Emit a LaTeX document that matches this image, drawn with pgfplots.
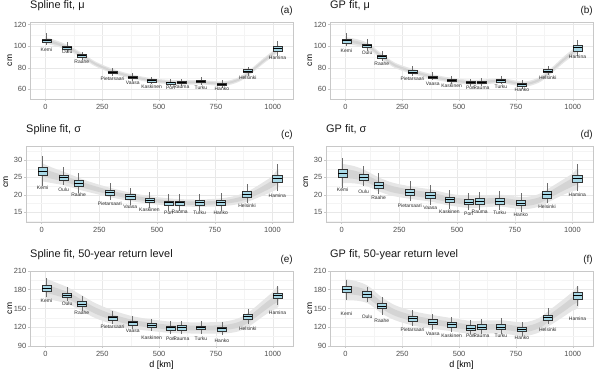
\documentclass[border=0pt]{standalone}
\usepackage{fontspec}
\setmainfont{Liberation Sans}
\usepackage{pgfplots}
\pgfplotsset{compat=1.18}
\usepgfplotslibrary{statistics}

\definecolor{boxfill}{RGB}{168,216,230}
\definecolor{boxline}{RGB}{50,50,50}
\definecolor{whisk}{RGB}{110,110,110}
\definecolor{bandout}{RGB}{230,230,230}
\definecolor{bandin}{RGB}{212,212,212}
\definecolor{gridmaj}{RGB}{232,232,232}
\definecolor{gridmin}{RGB}{244,244,244}
\definecolor{frame}{RGB}{200,200,200}
\definecolor{ticktext}{RGB}{77,77,77}
\definecolor{labtext}{RGB}{40,40,40}

% position, lower whisker, lower quartile, median, upper quartile, upper whisker
\newcommand\bx[6]{\addplot[boxplot prepared={draw position=#1, lower whisker=#2,
  lower quartile=#3, median=#4, upper quartile=#5, upper whisker=#6}] coordinates {};}

\tikzset{letter/.style={anchor=base east, inner sep=0pt, yshift=8bp,
  font=\fontsize{10}{11}\selectfont, text=black!90}}

\pgfplotsset{
  panel/.style={
    scale only axis,
    xmin=-68, xmax=1089,
    xtick={0,250,500,750,1000},
    minor xtick={125,375,625,875},
    grid=both,
    major grid style={gridmaj, line width=0.5bp},
    minor grid style={gridmin, line width=0.3bp},
    axis line style={frame, line width=0.6bp},
    tick style={frame, line width=0.5bp},
    tick align=outside, major tick length=2bp, minor tick length=0pt,
    xtick pos=bottom, ytick pos=left,
    tick label style={font=\fontsize{7.5}{8}\selectfont, text=ticktext},
    yticklabel style={inner sep=1.5bp},
    /pgf/number format/assume math mode=true,
    /pgf/number format/1000 sep={},
    ylabel={cm},
    every axis y label/.style={at={(rel axis cs:0,0.5)}, xshift=-20bp, rotate=90,
      anchor=center, font=\fontsize{8.5}{9}\selectfont},
    every axis x label/.style={at={(rel axis cs:0.5,0)}, yshift=-19bp,
      anchor=center, font=\fontsize{9}{10}\selectfont},
    title style={at={(rel axis cs:0,1)}, anchor=base west, yshift=8bp,
      inner sep=0pt, font=\fontsize{11}{12}\selectfont, text=black!90},
    clip mode=individual,
    boxplot/draw direction=y,
    boxplot/box extend=40,
    boxplot/whisker extend=0,
    boxplot/every box/.style={draw=boxline, fill=boxfill, line width=0.45bp},
    boxplot/every median/.style={draw=black, line width=0.9bp},
    boxplot/every whisker/.style={draw=whisk, line width=0.5bp},
    nodes near coords style={anchor=center, inner sep=0pt,
      font=\fontsize{5}{6}\selectfont, text=labtext},
  },
  rowA/.style={height=77bp, ymin=51, ymax=122.5, ytick={60,80,100,120}, minor ytick={70,90,110}},
  rowB/.style={height=76bp, ymin=12.2, ymax=34, ytick={15,20,25,30}, minor ytick={12.5,17.5,22.5,27.5,32.5}},
  rowC/.style={height=75bp, ymin=90, ymax=210, ytick={90,120,150,180,210}, minor ytick={105,135,165,195}},
  bandO/.style={fill=bandout, draw=none, smooth, tension=0.5},
  bandI/.style={fill=bandin, draw=none, smooth, tension=0.5},
  stlab/.style={draw=none, nodes near coords, point meta=explicit symbolic},
}

\begin{document}
\begin{tikzpicture}

% (a) Spline fit, mu
\begin{axis}[panel, rowA, at={(30bp,351bp)}, anchor=north west, width=263bp,
  title={Spline fit, μ}]
\addplot[bandO] coordinates {(0,108.5) (50,105.2) (100,101) (160,93.9) (220,85.8) (300,78.7)
  (385,73.6) (470,70.3) (555,68.6) (605,68.4) (690,68.4) (785,67.4) (850,71.2) (900,78.3)
  (960,89) (1000,95.7) (1025,100.8) (1025,94.8) (1000,90.3) (960,84) (900,73.7) (850,66.8)
  (785,63.2) (690,64.4) (605,64.4) (555,64.6) (470,66.3) (385,69.4) (300,74.3) (220,81.2)
  (160,89.1) (100,96) (50,99.8) (0,102.5)};
\addplot[bandI] coordinates {(0,106.8) (50,103.7) (100,99.6) (160,92.6) (220,84.5) (300,77.5)
  (385,72.4) (470,69.2) (555,67.5) (605,67.3) (690,67.3) (785,66.2) (850,70) (900,77)
  (960,87.6) (1000,94.2) (1025,99.1) (1025,96.5) (1000,91.8) (960,85.4) (900,75) (850,68)
  (785,64.4) (690,65.5) (605,65.5) (555,65.7) (470,67.4) (385,70.6) (300,75.5) (220,82.5)
  (160,90.4) (100,97.4) (50,101.3) (0,104.2)};
\bx{4}{100.7}{103.5}{105}{106.9}{111.9}
\bx{95}{95.1}{97.3}{98.9}{100.4}{103.5}
\bx{160}{87.4}{89.8}{91}{92.3}{95}
\bx{295}{72.4}{74.9}{75.9}{77.1}{80.2}
\bx{384}{67.8}{70}{71.2}{72.1}{74.9}
\bx{467}{64.7}{66.8}{68}{69}{71.8}
\bx{550}{63.1}{65}{65.9}{66.8}{69.3}
\bx{598}{63.4}{65.6}{66.5}{67.5}{70}
\bx{684}{64.1}{66.2}{67.5}{68.4}{71.2}
\bx{776}{61.2}{63.7}{64.7}{65.6}{68.7}
\bx{890}{72.4}{75.5}{76.8}{78.3}{81.1}
\bx{1021}{90.5}{95.4}{97.6}{99.8}{104.8}
\addplot[stlab] coordinates {(4,96.7)[Kemi] (95,94.5)[Oulu] (160,85.2)[Raahe]
  (295,69.6)[Pietarsaari] (384,65.6)[Vaasa] (467,62.8)[Kaskinen] (550,61.6)[Pori]
  (598,61.9)[Rauma] (684,61.9)[Turku] (776,60.3)[Hanko] (890,70.9)[Helsinki]
  (1021,89.5)[Hamina]};
\node[letter] at (rel axis cs:1,1) {(a)};
\end{axis}

% (b) GP fit, mu
\begin{axis}[panel, rowA, at={(330bp,351bp)}, anchor=north west, width=263bp,
  title={GP fit, μ}]
\addplot[bandO] coordinates {(0,108.5) (50,106.6) (100,102.8) (160,93.1) (220,84.5) (300,78.7)
  (385,73.8) (470,70.6) (555,68.7) (605,69.1) (690,70.2) (785,67.2) (850,71) (900,78.8)
  (960,90.4) (1000,97.2) (1025,101.6) (1025,94.4) (1000,90.8) (960,84.6) (900,73.6) (850,66)
  (785,62.4) (690,65.6) (605,64.5) (555,64.1) (470,66) (385,69.2) (300,73.9) (220,79.5)
  (160,87.9) (100,97.2) (50,100.4) (0,101.5)};
\addplot[bandI] coordinates {(0,106.5) (50,104.8) (100,101.2) (160,91.6) (220,83.1) (300,77.3)
  (385,72.5) (470,69.3) (555,67.4) (605,67.8) (690,68.9) (785,65.8) (850,69.6) (900,77.3)
  (960,88.7) (1000,95.3) (1025,99.5) (1025,96.5) (1000,92.7) (960,86.3) (900,75.1) (850,67.4)
  (785,63.8) (690,66.9) (605,65.8) (555,65.4) (470,67.3) (385,70.5) (300,75.3) (220,80.9)
  (160,89.4) (100,98.8) (50,102.2) (0,103.5)};
\bx{4}{100}{103.1}{104.9}{106.8}{112.3}
\bx{95}{96}{98.9}{100.5}{102.2}{106.8}
\bx{160}{86.2}{88.6}{90.2}{91.7}{96}
\bx{295}{72}{74.5}{76}{77.5}{81.8}
\bx{384}{68.3}{70.2}{71.4}{72.6}{75.7}
\bx{467}{64.6}{67.2}{68.3}{69.4}{72}
\bx{550}{62.8}{65.2}{66.2}{67.2}{69.5}
\bx{598}{63}{65.8}{66.8}{67.8}{70.8}
\bx{684}{64.6}{66.9}{68}{69.1}{72}
\bx{776}{60.6}{63.3}{64.3}{65.3}{68.3}
\bx{890}{73.2}{75.6}{76.9}{78.2}{81.5}
\bx{1021}{91.1}{95.7}{98.5}{100.9}{105.8}
\addplot[stlab] coordinates {(4,96)[Kemi] (95,93.8)[Oulu] (160,83.7)[Raahe]
  (295,69.5)[Pietarsaari] (384,65.2)[Vaasa] (467,63.1)[Kaskinen] (550,61.5)[Pori]
  (598,61.5)[Rauma] (684,62.8)[Turku] (776,59.7)[Hanko] (890,71.1)[Helsinki]
  (1021,89.8)[Hamina]};
\node[letter] at (rel axis cs:1,1) {(b)};
\end{axis}

% (c) Spline fit, sigma
\begin{axis}[panel, rowB, at={(26bp,227bp)}, anchor=north west, width=267bp,
  title={Spline fit, σ}, every axis y label/.append style={xshift=2bp}]
\addplot[bandO] coordinates {(0,29.1) (50,27.7) (100,26.5) (160,24.9) (220,23.5) (300,21.95)
  (385,20.6) (470,19.6) (555,18.95) (605,18.75) (690,18.65) (785,19.05) (850,19.9) (900,21.2)
  (960,23.6) (1000,25.4) (1025,27.3) (1025,22.1) (1000,21) (960,19.8) (900,18.2) (850,17.3)
  (785,16.75) (690,16.55) (605,16.65) (555,16.85) (470,17.4) (385,18.2) (300,19.25) (220,20.5)
  (160,21.5) (100,22.7) (50,23.3) (0,23.9)};
\addplot[bandI] coordinates {(0,27.7) (50,26.5) (100,25.45) (160,23.95) (220,22.7) (300,21.2)
  (385,19.95) (470,19) (555,18.4) (605,18.2) (690,18.1) (785,18.4) (850,19.2) (900,20.4)
  (960,22.55) (1000,24.2) (1025,25.9) (1025,23.5) (1000,22.2) (960,20.85) (900,19) (850,18)
  (785,17.4) (690,17.1) (605,17.2) (555,17.4) (470,18) (385,18.85) (300,20) (220,21.3)
  (160,22.45) (100,23.75) (50,24.5) (0,25.3)};
\bx{4}{22.4}{25.7}{26.7}{27.8}{31.1}
\bx{95}{22.8}{24.3}{25}{25.7}{27.9}
\bx{160}{20.4}{22.5}{23.3}{24.1}{26.3}
\bx{295}{18.5}{19.9}{20.6}{21.3}{23.3}
\bx{384}{17.1}{18.8}{19.5}{20.2}{21.9}
\bx{467}{16.2}{17.8}{18.3}{19}{20.9}
\bx{550}{15.4}{17.1}{17.8}{18.3}{20.2}
\bx{598}{15.4}{17.1}{17.8}{18.3}{20.2}
\bx{684}{15.4}{17.1}{17.8}{18.4}{20.3}
\bx{776}{15.4}{17.1}{17.8}{18.4}{20.4}
\bx{890}{17.6}{19.4}{20.2}{20.9}{23}
\bx{1021}{21.2}{23.6}{24.6}{25.7}{28.8}
\addplot[stlab] coordinates {(4,22.1)[Kemi] (95,21.4)[Oulu] (160,20)[Raahe]
  (295,17.4)[Pietarsaari] (384,16.5)[Vaasa] (467,15.6)[Kaskinen] (550,15)[Pori]
  (598,15)[Rauma] (684,15)[Turku] (776,14.8)[Hanko] (890,16.8)[Helsinki]
  (1021,19.8)[Hamina]};
\node[letter] at (rel axis cs:1,1) {(c)};
\end{axis}

% (d) GP fit, sigma
\begin{axis}[panel, rowB, at={(326bp,227bp)}, anchor=north west, width=267bp,
  title={GP fit, σ}, every axis y label/.append style={xshift=2bp}]
\addplot[bandO] coordinates {(0,28.9) (50,28.3) (100,27.1) (160,25) (220,23.5) (300,22.4)
  (385,21.55) (470,20.3) (555,19.6) (605,19.8) (690,20) (785,19.35) (850,20.1) (900,21.95)
  (960,24.4) (1000,26.1) (1025,27.4) (1025,21.8) (1000,21.1) (960,20) (900,18.05) (850,16.5)
  (785,15.85) (690,16.6) (605,16.4) (555,16.2) (470,16.9) (385,18.05) (300,18.8) (220,19.7)
  (160,21) (100,22.7) (50,23.3) (0,23.3)};
\addplot[bandI] coordinates {(0,27.4) (50,27) (100,25.95) (160,23.95) (220,22.5) (300,21.45)
  (385,20.65) (470,19.4) (555,18.7) (605,18.9) (690,19.1) (785,18.45) (850,19.15) (900,20.9)
  (960,23.25) (1000,24.8) (1025,25.9) (1025,23.3) (1000,22.4) (960,21.15) (900,19.1) (850,17.45)
  (785,16.75) (690,17.5) (605,17.3) (555,17.1) (470,17.8) (385,18.95) (300,19.75) (220,20.7)
  (160,22.05) (100,23.85) (50,24.6) (0,24.8)};
\bx{4}{22}{25.1}{26.1}{27.2}{30.5}
\bx{95}{22.5}{24.2}{25}{25.8}{28.3}
\bx{160}{20.2}{21.9}{22.8}{23.6}{26.3}
\bx{295}{18.3}{19.9}{20.7}{21.6}{23.9}
\bx{384}{17.1}{18.9}{19.8}{20.6}{22.7}
\bx{467}{15.9}{17.8}{18.6}{19.3}{21.4}
\bx{550}{15.5}{17.2}{17.8}{18.6}{20.4}
\bx{598}{15.5}{17.4}{18.1}{18.9}{20.8}
\bx{684}{15.5}{17.4}{18.2}{18.9}{21.1}
\bx{776}{15.2}{16.9}{17.6}{18.4}{20.4}
\bx{890}{17.6}{19.1}{20.1}{21}{23.3}
\bx{1021}{21.1}{23.6}{24.7}{25.7}{28.9}
\addplot[stlab] coordinates {(4,21.6)[Kemi] (95,21)[Oulu] (160,19.1)[Raahe]
  (295,16.9)[Pietarsaari] (384,16.2)[Vaasa] (467,15.2)[Kaskinen] (550,14.5)[Pori]
  (598,15)[Rauma] (684,15)[Turku] (776,14.3)[Hanko] (890,16.5)[Helsinki]
  (1021,19.9)[Hamina]};
\node[letter] at (rel axis cs:1,1) {(d)};
\end{axis}

% (e) Spline fit, 50-year return level
\begin{axis}[panel, rowC, at={(30bp,102bp)}, anchor=north west, width=263bp,
  title={Spline fit, 50-year return level}, xlabel={d [km]}]
\addplot[bandO] coordinates {(0,198) (50,191) (100,183.5) (160,171) (220,158.5) (300,146.5)
  (385,137.5) (470,132.3) (555,128.8) (605,128.2) (690,127.8) (785,129.1) (850,134.5) (900,145.5)
  (960,164) (1000,176.5) (1025,185) (1025,153) (1000,147.5) (960,138) (900,122.5) (850,113.5)
  (785,109.9) (690,109.8) (605,110.2) (555,110.8) (470,113.7) (385,117.5) (300,124.5) (220,134.5)
  (160,146) (100,157.5) (50,162) (0,166)};
\addplot[bandI] coordinates {(0,188.5) (50,182.5) (100,176) (160,163.7) (220,151.5) (300,140.1)
  (385,131.7) (470,126.9) (555,123.6) (605,123) (690,122.6) (785,123.5) (850,128.4) (900,138.8)
  (960,156.5) (1000,168) (1025,175.7) (1025,162.3) (1000,156) (960,145.5) (900,129.2) (850,119.6)
  (785,115.5) (690,115) (605,115.4) (555,116) (470,119.1) (385,123.3) (300,130.9) (220,141.5)
  (160,153.3) (100,165) (50,170.5) (0,175.5)};
\bx{4}{167.7}{178.3}{182.5}{186.7}{199.4}
\bx{95}{161.4}{167.7}{171.4}{175}{183.6}
\bx{160}{146.6}{153.4}{157.1}{161.4}{169.3}
\bx{295}{125.4}{131.8}{135}{138}{146.6}
\bx{384}{118}{123.3}{127}{130.2}{137.6}
\bx{467}{113.8}{119.6}{123.3}{126.5}{134}
\bx{550}{109.6}{116}{119}{122.3}{129.7}
\bx{598}{109.6}{116}{119.6}{122.8}{130.7}
\bx{684}{109.6}{116.5}{119.6}{122.3}{130.7}
\bx{776}{107.5}{113.8}{117.5}{120.7}{128.6}
\bx{890}{125.4}{132.8}{136.5}{140.2}{149.7}
\bx{1021}{155}{166.7}{170.9}{175}{186.7}
\addplot[stlab] coordinates {(4,163)[Kemi] (95,157.1)[Oulu] (160,142.9)[Raahe]
  (295,121.2)[Pietarsaari] (384,113.8)[Vaasa] (467,103.2)[Kaskinen] (550,102.2)[Pori]
  (598,102.2)[Rauma] (684,102.2)[Turku] (776,98)[Hanko] (890,117)[Helsinki]
  (1021,142.9)[Hamina]};
\node[letter] at (rel axis cs:1,1) {(e)};
\end{axis}

% (f) GP fit, 50-year return level
\begin{axis}[panel, rowC, at={(330bp,102bp)}, anchor=north west, width=263bp,
  title={GP fit, 50-year return level}, xlabel={d [km]}]
\addplot[bandO] coordinates {(0,197) (50,193.5) (100,186) (160,168) (220,155) (300,145.5)
  (385,139.5) (470,134.5) (555,130) (605,130.7) (690,131) (785,127.8) (850,134.5) (900,148)
  (960,165) (1000,177) (1025,185.5) (1025,152.5) (1000,147) (960,137) (900,123) (850,111.5)
  (785,105.8) (690,110) (605,109.7) (555,109) (470,113.5) (385,117.5) (300,122.5) (220,131)
  (160,142) (100,158) (50,162.5) (0,163)};
\addplot[bandI] coordinates {(0,187) (50,184.5) (100,178) (160,160.5) (220,148) (300,138.8)
  (385,133.1) (470,128.4) (555,123.9) (605,124.6) (690,124.9) (785,121.4) (850,127.8) (900,140.7)
  (960,156.8) (1000,168.3) (1025,176) (1025,162) (1000,155.7) (960,145.2) (900,130.3) (850,118.2)
  (785,112.2) (690,116.1) (605,115.8) (555,115.1) (470,119.6) (385,123.9) (300,129.2) (220,138)
  (160,149.5) (100,166) (50,171.5) (0,173)};
\bx{4}{163.6}{175.9}{180.1}{185}{195.6}
\bx{95}{161}{168.4}{172.7}{177}{185}
\bx{160}{139.6}{150.3}{154}{158.3}{169}
\bx{295}{122.5}{130}{133.7}{137.5}{147.6}
\bx{384}{115.6}{124.7}{128.4}{132.1}{140.7}
\bx{467}{113}{120.4}{124.1}{127.9}{137}
\bx{550}{108.7}{115}{118.8}{122.5}{131.6}
\bx{598}{108.7}{116.1}{120.4}{124.7}{133.2}
\bx{684}{108.7}{116.6}{120.4}{124.2}{134.3}
\bx{776}{106.5}{112.9}{116.7}{120.4}{128.9}
\bx{890}{124.7}{131.6}{135.9}{139.6}{150.3}
\bx{1021}{154.5}{165.2}{170.5}{175.9}{186.5}
\addplot[stlab] coordinates {(4,142.3)[Kemi] (95,137)[Oulu] (160,130)[Raahe]
  (295,116.7)[Pietarsaari] (384,109.7)[Vaasa] (467,106.5)[Kaskinen] (550,106.5)[Pori]
  (598,106.5)[Rauma] (684,106.5)[Turku] (776,103.3)[Hanko] (890,116.7)[Helsinki]
  (1021,134.3)[Hamina]};
\node[letter] at (rel axis cs:1,1) {(f)};
\end{axis}

\pgfresetboundingbox
\useasboundingbox (0,0) rectangle (600bp,373bp);
\end{tikzpicture}
\end{document}
